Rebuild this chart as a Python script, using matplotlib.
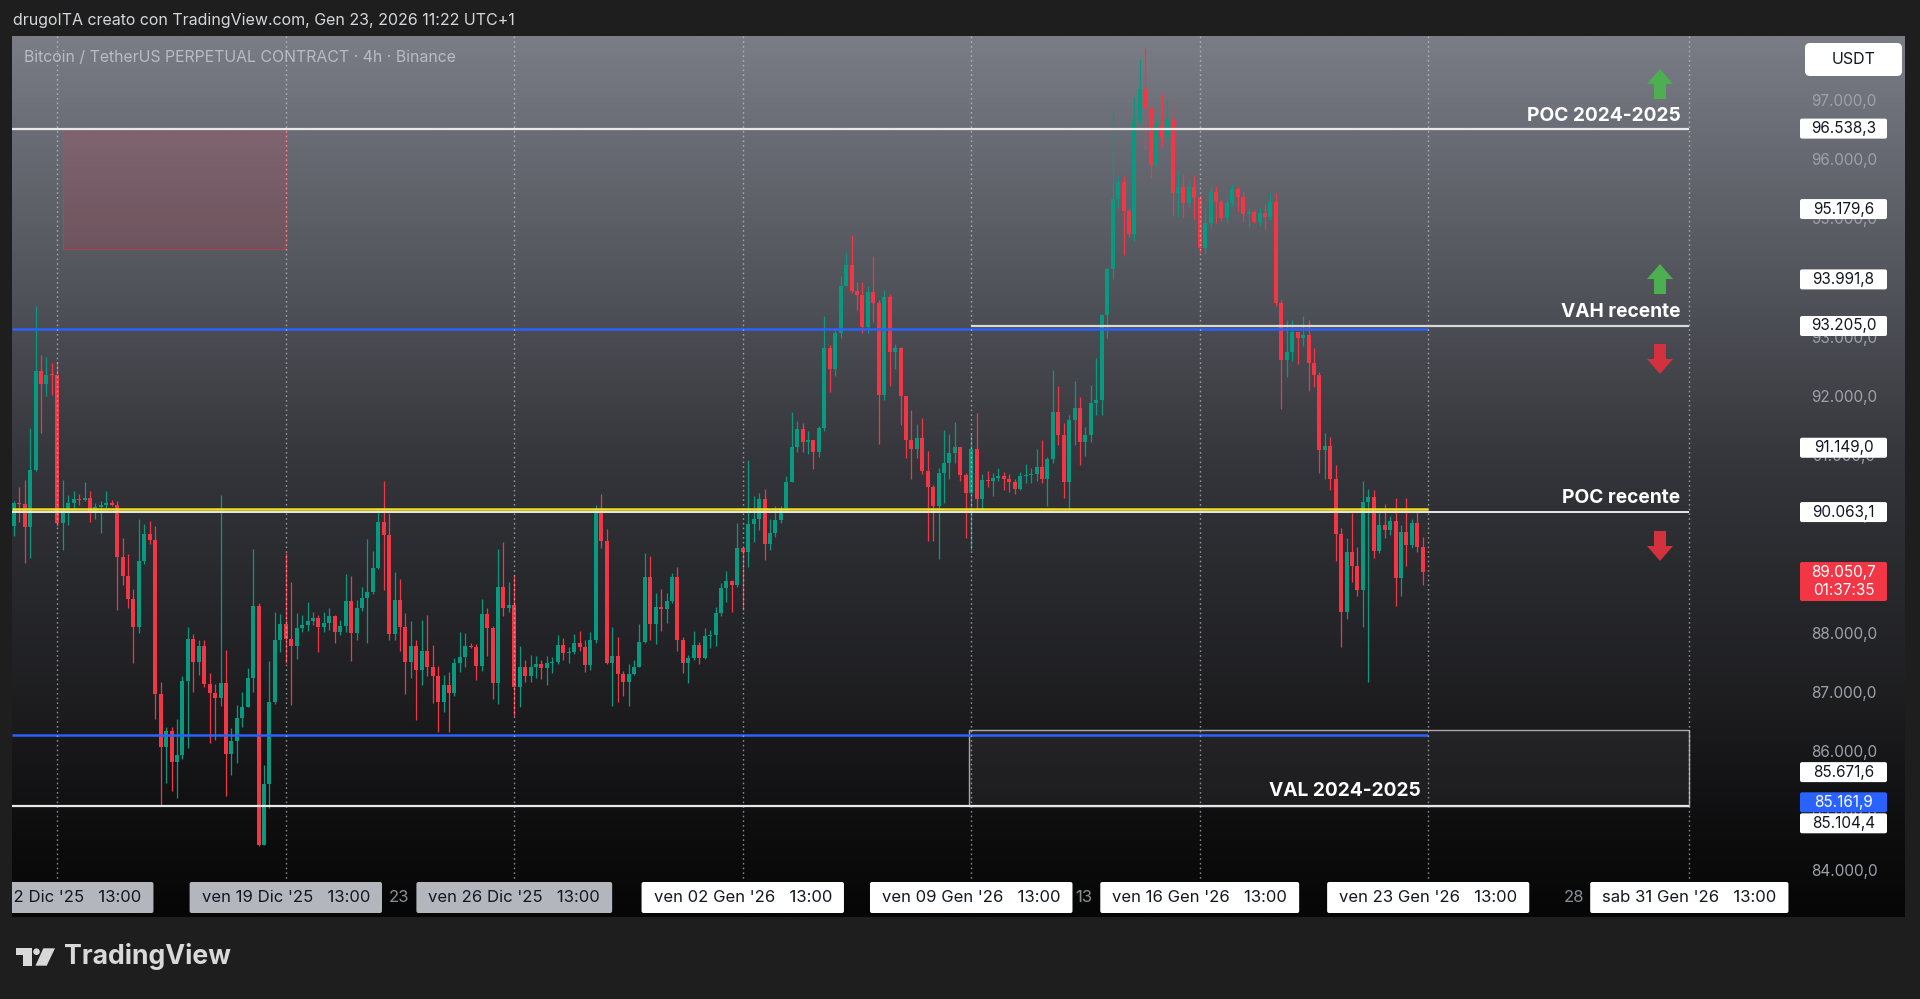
import numpy as np
import pandas as pd
import matplotlib
matplotlib.use("Agg")
import matplotlib.pyplot as plt
from matplotlib.colors import LinearSegmentedColormap
from matplotlib.patches import Rectangle, FancyBboxPatch, Polygon, Circle
from matplotlib.transforms import Bbox

plt.rcParams['font.family'] = ['Inter', 'DejaVu Sans']

W, H = 1920, 999
BG = '#1e1e1e'
GREEN = '#089981'
RED = '#f23645'
BLUE = '#2962ff'

# ---------------- data (BTCUSDT perp, 4h candles) ----------------
first_candle = "2025-12-11 05:00"
first_open = 89834

closes = [
    90220, 90200, 89817, 90765, 92453, 92222, 92382, 92370, 89876, 90101,
    90220, 90279, 90260, 90308, 90071, 90143, 90190, 90202, 90190, 89301,
    88975, 88590, 88116, 89242, 89686, 89597, 86990, 86102, 86368, 85835,
    85954, 87210, 87927, 87524, 87808, 87168, 87002, 86931, 87180, 85972,
    86202, 86580, 86777, 87255, 88477, 84440, 85465, 86861, 87903, 88167,
    87914, 87801, 88100, 88150, 88229, 88270, 88128, 88185, 88313, 88038,
    88140, 88560, 88015, 88437, 88612, 88719, 89124, 89890, 89676, 88000,
    88578, 88117, 87525, 87800, 87396, 87722, 87452, 87300, 86861, 87143,
    87002, 87520, 87621, 87801, 87780, 87469, 88342, 88111, 87182, 88792,
    88437, 88499, 87103, 87441, 87300, 87452, 87492, 87424, 87508, 87525,
    87824, 87683, 87705, 87846, 87790, 87480, 87903, 90070, 89574, 87520,
    87632, 87329, 87193, 87329, 87452, 87869, 88961, 88172, 88454, 88425,
    88567, 88960, 87902, 87508, 87593, 87818, 87593, 87970, 87987, 88353,
    88786, 88897, 88830, 89450, 89394, 89860, 89940, 90277, 89524, 89704,
    89929, 90126, 90576, 91168, 91460, 91252, 91280, 91083, 91477, 92828,
    92479, 93081, 93880, 94235, 93800, 93728, 93182, 93785, 93588, 92040,
    93689, 92771, 92828, 92023, 91280, 91122, 91308, 90762, 90492, 90165,
    90717, 90886, 91055, 91167, 90689, 90390, 91128, 90278, 90604, 90593,
    90632, 90672, 90615, 90575, 90447, 90672, 90689, 90706, 90818, 90615,
    90953, 91758, 91359, 90565, 91617, 91815, 91240, 91364, 91899, 91955,
    93390, 94162, 95344, 95642, 95152, 94752, 96672, 97201, 96880, 95924,
    96582, 96402, 96695, 95445, 95558, 95287, 95547, 95360, 94516, 94938,
    95473, 95304, 95023, 95276, 95512, 95389, 95096, 95135, 94966, 95107,
    95050, 95304, 93587, 92630, 92772, 93109, 92997, 93053, 92575, 92377,
    91111, 91178, 90621, 89687, 88381, 89383, 89158, 88747, 90227, 90312,
    89411, 89844, 89760, 89912, 88955, 89721, 89507, 89884, 89479, 89051,
]

highs = [
    90250, 90486, 90605, 91482, 93538, 92708, 92679, 92578, 92619, 90605,
    90356, 90427, 90368, 90575, 90427, 90220, 90249, 90427, 90261, 90249,
    89627, 89360, 88768, 89953, 89864, 89917, 89834, 87186, 86428, 86428,
    86576, 87287, 88128, 87998, 87909, 87909, 87346, 87168, 90356, 87731,
    86420, 86805, 87022, 87428, 89440, 88520, 85792, 87540, 88370, 88340,
    89370, 88880, 88360, 88330, 88540, 88380, 88330, 88370, 88440, 88320,
    88240, 89020, 88990, 88570, 88790, 89600, 89410, 90100, 90580, 90050,
    89050, 88930, 88360, 88230, 87900, 88240, 88330, 87820, 87460, 87310,
    87360, 87600, 88030, 88020, 87860, 87830, 88590, 88440, 88140, 89440,
    89560, 88880, 89000, 87800, 87560, 87650, 87640, 87570, 87640, 87620,
    87980, 87930, 87780, 88000, 88060, 87900, 88030, 90180, 90360, 89770,
    88130, 87960, 87380, 87500, 87560, 88180, 89380, 89320, 88700, 88770,
    88700, 89040, 89140, 87960, 87650, 88050, 87870, 88100, 88070, 88460,
    88860, 89060, 88920, 89870, 89450, 90940, 90340, 90380, 90450, 89950,
    90170, 90170, 90680, 91760, 91600, 91560, 91430, 91280, 91520, 93370,
    92890, 93160, 94050, 94430, 94740, 93950, 93950, 93880, 94390, 93640,
    93810, 93740, 92900, 92850, 92030, 91790, 91550, 91650, 91100, 90520,
    90800, 91450, 91380, 91580, 91170, 90720, 91400, 91730, 90700, 90760,
    90720, 90800, 90740, 90700, 90620, 90740, 90880, 90800, 91120, 91280,
    91000, 92460, 92200, 91560, 91700, 92280, 92000, 91500, 92210, 92660,
    93400, 94190, 96850, 95740, 95740, 95200, 97080, 97720, 97900, 96880,
    96700, 97120, 97040, 97000, 95800, 95770, 95680, 95760, 95410, 95200,
    95570, 95570, 95350, 95350, 95600, 95560, 95460, 95200, 95170, 95200,
    95260, 95450, 95450, 93650, 93300, 93300, 93110, 93370, 93310, 92830,
    92430, 91400, 91330, 90850, 89800, 89620, 90050, 89480, 90580, 90450,
    90430, 90100, 90200, 90000, 90300, 89840, 90300, 89940, 90070, 89650,
]

lows = [
    89660, 89894, 89195, 89283, 90753, 91405, 92015, 92044, 89834, 89420,
    89846, 90131, 90190, 90249, 89894, 89953, 89716, 90131, 90160, 88412,
    88827, 88442, 87506, 88027, 89183, 89526, 86576, 85094, 85492, 85361,
    85243, 85895, 86072, 87020, 87317, 87109, 86161, 86220, 86783, 85272,
    85628, 85820, 86440, 86777, 87030, 84420, 84440, 85060, 86830, 87700,
    87520, 86800, 87590, 88030, 88050, 88150, 87700, 88030, 88070, 87850,
    87990, 88040, 87550, 87910, 88390, 87850, 88680, 89100, 88740, 87900,
    87900, 87710, 86990, 87260, 86560, 87150, 87300, 86840, 86355, 86692,
    86355, 86960, 87370, 87440, 87760, 87230, 87380, 87640, 86910, 86820,
    88308, 88380, 86620, 86770, 87190, 87200, 87260, 87240, 87150, 87340,
    87500, 87570, 87520, 87660, 87710, 87360, 87390, 87850, 89460, 87500,
    86780, 86860, 86960, 86780, 87320, 87440, 87850, 87900, 87840, 88060,
    88190, 88520, 87720, 87350, 87180, 87570, 87500, 87580, 87760, 87800,
    88310, 88550, 88380, 88800, 88410, 89130, 89560, 89760, 89260, 89420,
    89650, 89880, 90080, 90570, 91070, 91080, 91040, 90790, 91000, 91440,
    92090, 92360, 93000, 93880, 93760, 93475, 93080, 93080, 93270, 91210,
    91950, 92190, 92480, 91540, 90970, 90620, 90970, 90700, 89570, 89570,
    89270, 90210, 90620, 90900, 90580, 89630, 89420, 90110, 90110, 90480,
    90340, 90580, 90440, 90400, 90360, 90440, 90560, 90560, 90580, 90560,
    90170, 90900, 91200, 90300, 90100, 91200, 90860, 91010, 91240, 91700,
    91710, 93000, 94000, 95200, 94400, 94700, 94640, 96600, 96180, 95700,
    95900, 96230, 96250, 95080, 95050, 95030, 95220, 95020, 94430, 94420,
    94880, 94940, 94980, 94950, 95230, 95150, 94960, 94880, 94940, 94900,
    94850, 95000, 93540, 91800, 92340, 92620, 92560, 92870, 92110, 92180,
    90720, 90620, 90430, 89240, 87780, 88250, 88890, 88640, 88120, 87200,
    89280, 89380, 89620, 89680, 88470, 88640, 89150, 89460, 89390, 88830,
]

# drawings
poc_2425 = 96538.3
val_2425 = 85104.4
vah_recent = 93205.0
poc_recent = 90063.1
blue_high = 93150
blue_low = 86300
yellow_level = 90115
zone_top, zone_bottom = 96538.3, 94500
zone_start, zone_end = "2025-12-12 17:00", "2025-12-19 13:00"
box_top = 86390
box_start = "2026-01-09 11:00"
drawings_end = "2026-01-31 13:00"
lines_end = "2026-01-23 13:00"
vah_start = "2026-01-09 13:00"

last_price = 89050.7
countdown = "01:37:35"

axis_levels = [96538.3, 95179.6, 93991.8, 93205.0, 91149.0, 90063.1, 85671.6, 85161.9, 85104.4]
axis_level_blue = [False, False, False, False, False, False, False, True, False]

tick_dates = ["2025-12-12 13:00", "2025-12-19 13:00", "2025-12-26 13:00", "2026-01-02 13:00",
              "2026-01-09 13:00", "2026-01-16 13:00", "2026-01-23 13:00", "2026-01-31 13:00"]
tick_labels = ["ven 12 Dic '25   13:00", "ven 19 Dic '25   13:00", "ven 26 Dic '25   13:00",
               "ven 02 Gen '26   13:00", "ven 09 Gen '26   13:00", "ven 16 Gen '26   13:00",
               "ven 23 Gen '26   13:00", "sab 31 Gen '26   13:00"]
minor_dates = ["2025-12-23 00:00", "2026-01-13 00:00", "2026-01-28 00:00"]
minor_labels = ["23", "13", "28"]


def it_num(v, d=1):
    s = f"{v:,.{d}f}"
    return s.replace(",", "_").replace(".", ",").replace("_", ".")


t0 = pd.Timestamp(first_candle)


def to_x(ts):
    return (pd.Timestamp(ts) - t0) / pd.Timedelta(hours=4)


# ---------------- figure ----------------
fig = plt.figure(figsize=(19.2, 9.99), dpi=100, facecolor=BG)


def add_px_axes(x0, y0, x1, y1):
    return fig.add_axes([x0 / W, 1 - y1 / H, (x1 - x0) / W, (y1 - y0) / H])


grad = LinearSegmentedColormap.from_list("tvgrad", [
    (0.00, (122/255, 124/255, 134/255)),
    (0.24, (88/255, 90/255, 98/255)),
    (0.49, (52/255, 53/255, 58/255)),
    (0.60, (42/255, 43/255, 47/255)),
    (0.75, (30/255, 30/255, 33/255)),
    (0.90, (14/255, 14/255, 15/255)),
    (1.00, (6/255, 6/255, 6/255)),
])
bg_ax = add_px_axes(12, 36, 1905, 917)
bg_ax.imshow(np.linspace(0, 1, 512).reshape(-1, 1), aspect='auto', cmap=grad,
             extent=(0, 1, 0, 1), origin='upper')
bg_ax.set_axis_off()

ax = add_px_axes(12, 36, 1795, 876)
ax.set_facecolor('none')
ax.set_xlim((12 - 13.8) / 5.44, (1795 - 13.8) / 5.44)
ax.set_ylim(96538.3 - (876 - 128.6) / 0.05922, 96538.3 + (128.6 - 36) / 0.05922)
ax.set_axis_off()

ov = add_px_axes(0, 0, W, H)
ov.set_xlim(0, W)
ov.set_ylim(H, 0)
ov.set_axis_off()
ov.patch.set_visible(False)


def px_x(xd):
    return ax.transData.transform((xd, 0))[0]


def px_y(p):
    return H - ax.transData.transform((0, p))[1]


# ---------------- candles ----------------
c = np.array(closes, dtype=float)
o = np.r_[first_open, c[:-1]]
hi = np.maximum(np.array(highs, dtype=float), np.maximum(o, c))
lo = np.minimum(np.array(lows, dtype=float), np.minimum(o, c))
x = np.arange(len(c))
cols = np.where(c >= o, GREEN, RED)
ax.vlines(x, lo, hi, colors=cols, lw=0.9, zorder=2)
ax.bar(x, np.maximum(np.abs(c - o), 18), bottom=np.minimum(o, c), width=0.74,
       color=cols, linewidth=0, zorder=2.5)

# ---------------- drawings ----------------
x_left = ax.get_xlim()[0]
ax.add_patch(Rectangle((to_x(zone_start), zone_bottom), to_x(zone_end) - to_x(zone_start),
                       zone_top - zone_bottom, fc=(0.95, 0.21, 0.27, 0.15),
                       ec=(0.95, 0.21, 0.27, 0.45), lw=0.8, zorder=1.5))
ax.add_patch(Rectangle((to_x(box_start), val_2425), to_x(drawings_end) - to_x(box_start),
                       box_top - val_2425, fc=(1, 1, 1, 0.05), ec='#a8a8a8', lw=1.0, zorder=1.5))

ax.hlines(blue_high, x_left, to_x(lines_end), color=BLUE, lw=1.8, zorder=3)
ax.hlines(blue_low, x_left, to_x(lines_end), color=BLUE, lw=1.8, zorder=3)
ax.hlines(poc_2425, x_left, to_x(drawings_end), color='#e8e8e8', lw=1.6, zorder=3)
ax.hlines(vah_recent, to_x(vah_start), to_x(drawings_end), color='#d8d8d8', lw=1.6, zorder=3)
ax.hlines(poc_recent, x_left, to_x(drawings_end), color='#e8e8e8', lw=1.4, zorder=3)
ax.hlines(val_2425, x_left, to_x(drawings_end), color='#e8e8e8', lw=1.6, zorder=3)
ax.hlines(yellow_level, x_left, to_x(lines_end), color='#f5e21c', lw=1.8, zorder=3.2)

lab_kw = dict(textcoords='offset pixels', ha='right', va='baseline', color='white',
              fontsize=13.8, fontweight='bold', zorder=4)
ax.annotate("POC 2024-2025", xy=(to_x(drawings_end), poc_2425), xytext=(-9, 8), **lab_kw)
ax.annotate("VAH recente", xy=(to_x(drawings_end), vah_recent), xytext=(-9, 9), **lab_kw)
ax.annotate("POC recente", xy=(to_x(drawings_end), poc_recent), xytext=(-9, 9), **lab_kw)
ax.annotate("VAL 2024-2025", xy=(to_x(lines_end), val_2425), xytext=(-7, 10), **lab_kw)


def arrow(cx, top, up, color):
    hw, hh, sw, total = 13, 15, 6, 30
    if up:
        pts = [(cx, top), (cx + hw, top + hh), (cx + sw, top + hh), (cx + sw, top + total),
               (cx - sw, top + total), (cx - sw, top + hh), (cx - hw, top + hh)]
    else:
        b = top + total
        pts = [(cx, b), (cx + hw, b - hh), (cx + sw, b - hh), (cx + sw, top),
               (cx - sw, top), (cx - sw, b - hh), (cx - hw, b - hh)]
    ov.add_patch(Polygon(pts, closed=True, fc=color, ec='none', zorder=5))


arrow(1660, 69, True, '#4caf50')
arrow(1660, 264, True, '#4caf50')
arrow(1660, 344, False, '#d2313d')
arrow(1660, 531, False, '#d2313d')

# ---------------- time axis ----------------
panel_clip = Bbox.from_extents(12, H - 917, 1905, H - 36)
renderer = fig.canvas.get_renderer()
for i, (d, lab) in enumerate(zip(tick_dates, tick_labels)):
    cx = px_x(to_x(d))
    ov.vlines(cx, 36, 880, colors='#d4d6dc', linestyles=(0, (1.2, 2.2)), lw=1.0,
              alpha=0.6, zorder=3)
    t = ov.text(cx, 898, lab, ha='center', va='center', fontsize=12,
                color='#131722', zorder=7)
    tw = t.get_window_extent(renderer).width
    face = '#b4b6be' if i < 3 else '#ffffff'
    box = FancyBboxPatch((cx - tw / 2 - 12, 882), tw + 24, 31,
                         boxstyle='round,pad=0,rounding_size=2', fc=face, ec='none', zorder=6)
    ov.add_patch(box)
    box.set_clip_box(panel_clip)
    t.set_clip_box(panel_clip)
    t.set_clip_on(True)

for d, lab in zip(minor_dates, minor_labels):
    ov.text(px_x(to_x(d)), 898, lab, ha='center', va='center', fontsize=12,
            color='#8c8f96', zorder=7)

# ---------------- price axis ----------------
for v in np.arange(84000, 98000, 1000):
    ov.text(1844, px_y(v), it_num(v), ha='center', va='center', fontsize=11,
            color='#9ea1aa', zorder=6)

ys = []
for lvl in axis_levels:
    y = px_y(lvl)
    if ys and y < ys[-1] + 21:
        y = ys[-1] + 21
    ys.append(y)
for lvl, y, blue in zip(axis_levels, ys, axis_level_blue):
    ov.add_patch(FancyBboxPatch((1800, y - 10), 87, 20, boxstyle='round,pad=0,rounding_size=2',
                                fc=BLUE if blue else 'white', ec='none', zorder=8))
    ov.text(1843.5, y, it_num(lvl), ha='center', va='center', fontsize=11,
            color='white' if blue else '#131722', zorder=9)

yl = px_y(last_price)
ov.add_patch(FancyBboxPatch((1800, yl - 10), 87, 39, boxstyle='round,pad=0,rounding_size=2',
                            fc=RED, ec='none', zorder=8))
ov.text(1843.5, yl, it_num(last_price), ha='center', va='center', fontsize=11,
        color='white', zorder=9)
ov.text(1843.5, yl + 18, countdown, ha='center', va='center', fontsize=11,
        color='white', zorder=9)

ov.add_patch(FancyBboxPatch((1805, 43), 97, 33, boxstyle='round,pad=0,rounding_size=5',
                            fc='white', ec='none', zorder=8))
ov.text(1853.5, 59.5, "USDT", ha='center', va='center', fontsize=11.5, color='#131722', zorder=9)

# ---------------- header / title / logo ----------------
ov.text(13, 21, "drugoITA creato con TradingView.com, Gen 23, 2026 11:22 UTC+1",
        ha='left', va='center', fontsize=11.5, color='#d6d7da', zorder=9)
ov.text(24, 57.5, "Bitcoin / TetherUS PERPETUAL CONTRACT · 4h · Binance",
        ha='left', va='center', fontsize=11.4, color='#b9bbc5', zorder=9)

logo_c = '#d9d9d9'
ov.add_patch(Polygon([(16, 948.3), (31.7, 948.3), (31.7, 965.7), (23.3, 965.7), (23.3, 955), (16, 955)],
                     closed=True, fc=logo_c, ec='none', zorder=9))
ov.add_patch(Circle((36.5, 951.7), 3.3, fc=logo_c, ec='none', zorder=9))
ov.add_patch(Polygon([(43.3, 948.3), (55, 948.3), (46.7, 965.7), (35.5, 965.7)],
                     closed=True, fc=logo_c, ec='none', zorder=9))
ov.text(64, 957, "TradingView", ha='left', va='center', fontsize=19.2, fontweight='bold',
        color=logo_c, zorder=9)

fig.savefig("out.png", dpi=100, facecolor=BG)
